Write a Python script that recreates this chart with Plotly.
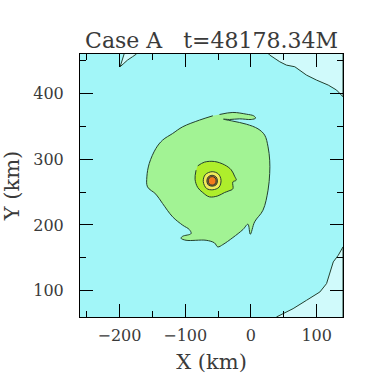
import plotly.graph_objects as go

# ---- contour region outlines (km) ----
# light-cyan region, top-right corner
tr_x = [27.0, 28.5, 43.8, 54.0, 66.7, 84.5, 99.8, 117.6, 130.3, 140.0, 140.0]
tr_y = [460.0, 458.4, 448.2, 443.1, 440.6, 427.9, 420.3, 412.7, 405.1, 394.9, 460.0]

# light-cyan region, bottom-right corner
br_x = [38.7, 46.3, 64.1, 84.5, 104.9, 115.0, 120.1, 125.2, 132.8, 140.0, 140.0]
br_y = [60.0, 64.1, 72.7, 85.4, 98.1, 110.8, 128.5, 143.8, 153.9, 166.6, 60.0]

# small light-cyan wedge at the top edge
tl_x = [-192.9, -196.5, -199.0, -194.4, -187.8, -180.2, -174.1]
tl_y = [460.0, 448.2, 440.6, 444.7, 450.7, 455.8, 460.0]

# green region (storm body with its spiral tail)
green_x = [-47.8, -27.5, -7.1, 4.1, 7.1, 0.5, -17.3, -32.6, -41.7, -27.5, -7.1,
           10.7, 20.9, 26.0, 28.5, 28.5, 26.0, 18.3, 5.6, -1.0, -4.6, -12.2,
           -27.5, -42.8, -50.4, -55.5, -68.2, -98.7, -106.4, -103.8, -91.1,
           -93.7, -103.8, -119.1, -134.4, -144.6, -157.3, -158.3, -154.7,
           -144.6, -134.4, -119.1, -103.8, -78.4, -58.0]
green_y = [368.0, 371.1, 368.5, 366.0, 362.5, 360.4, 361.4, 360.4, 360.9, 357.9,
           353.3, 346.2, 336.6, 318.8, 298.5, 278.2, 252.9, 222.4, 204.7, 185.9,
           201.1, 193.0, 180.8, 170.1, 166.6, 172.7, 176.7, 176.7, 179.8, 182.8,
           186.9, 193.0, 199.6, 212.3, 232.6, 246.8, 257.9, 273.1, 293.4, 316.3,
           329.0, 339.1, 349.3, 359.4, 366.0]

# yellow-green inner core
lime_x = [-80.9, -70.8, -55.5, -40.2, -30.0, -24.9, -22.4, -27.5, -27.5, -33.6,
          -40.2, -50.4, -63.1, -73.3, -80.9, -85.0, -83.5]
lime_y = [289.9, 295.5, 296.5, 291.4, 283.8, 274.2, 268.1, 265.5, 254.9, 251.8,
          249.3, 244.2, 242.7, 249.3, 256.9, 269.6, 283.3]

# eye rings
yel_x = [-59, -49.5, -45.5, -48.5, -58, -67.5, -72.5, -69.5, -59]
yel_y = [281, 277.5, 268, 257.5, 253.5, 255.5, 266, 276.5, 281]
brn_x = [-59, -53, -51, -53, -59, -65, -67, -65, -59]
brn_y = [275.5, 273, 267, 261, 259, 261, 267, 273, 275.5]
org_x = [-59, -54.5, -53, -54.5, -59, -63.5, -65, -63.5, -59]
org_y = [273.5, 271.5, 267, 262.5, 260.5, 262.5, 267, 271.5, 273.5]

title_text = "Case A\u00a0\u00a0\u00a0t=48178.34M"
x_ticks = [-200, -100, 0, 100]
y_ticks = [100, 200, 300, 400]

CYAN = "#a2f6f8"
LIGHT = "#d0fafb"
EDGE = "#23402e"
FONT = "DejaVu Serif"
TXT = "#3a3a3a"

fig = go.Figure()


def region(xs, ys, color, shape="linear"):
    fig.add_trace(go.Scatter(x=xs, y=ys, mode="lines", fill="toself",
                             fillcolor=color,
                             line=dict(color=EDGE, width=1, shape=shape),
                             hoverinfo="skip", showlegend=False))


region(tr_x, tr_y, LIGHT)
region(br_x, br_y, LIGHT)
region(tl_x, tl_y, LIGHT)
region(green_x, green_y, "#a2f394", "spline")
region(lime_x, lime_y, "#aeee2c", "spline")
region(yel_x, yel_y, "#f2ea5a", "spline")
region(brn_x, brn_y, "#c8642a", "spline")
region(org_x, org_y, "#f47a1c", "spline")

axis_common = dict(
    showline=True, linecolor="black", linewidth=1, mirror="ticks",
    ticks="inside", ticklen=13, tickwidth=1, tickcolor="black",
    showgrid=False, zeroline=False,
    tickfont=dict(family=FONT, size=16, color=TXT),
    minor=dict(dtick=50, ticks="inside", ticklen=6, tickwidth=1,
               tickcolor="black", showgrid=False),
    title_font=dict(family=FONT, size=21, color=TXT),
)

fig.update_xaxes(range=[-260, 140], tickvals=x_ticks, tick0=0, dtick=100,
                 title_text="X (km)", ticklabelstandoff=4, title_standoff=10,
                 **axis_common)
fig.update_yaxes(range=[60, 460], tickvals=y_ticks, tick0=0, dtick=100,
                 title_text="Y (km)", ticklabelstandoff=12, title_standoff=12,
                 **axis_common)

fig.update_layout(
    width=374, height=374,
    margin=dict(l=80, r=31, t=54, b=57, autoexpand=False),
    paper_bgcolor="white", plot_bgcolor=CYAN,
    title=dict(text=title_text, x=0.5, xref="paper", y=1 - 40 / 374,
               yanchor="middle", xanchor="center",
               font=dict(family=FONT, size=22, color=TXT)),
)

fig.write_html("out.html", config={"displayModeBar": False},
               post_script="document.body.style.margin='0px';")
